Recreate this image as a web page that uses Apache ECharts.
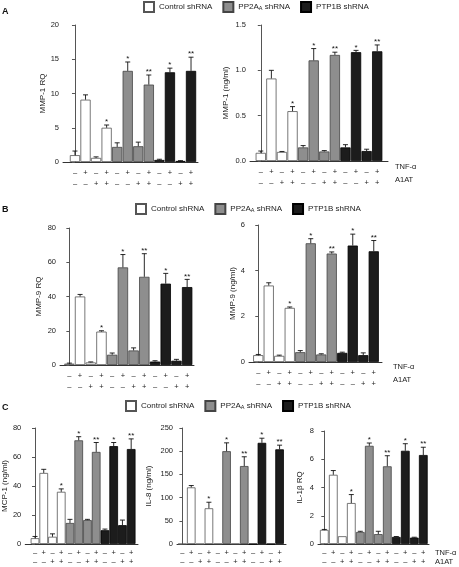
<!DOCTYPE html>
<html><head><meta charset="utf-8">
<script src="https://cdn.jsdelivr.net/npm/echarts@6/dist/echarts.min.js"></script>
<style>html,body{margin:0;padding:0;background:#fff}#c{width:459px;height:567px}</style>
</head><body><div id="c"></div><script>
// ---- data ----
const tnf  = ['–','+','–','+','–','+','–','+','–','+','–','+'];
const a1at = ['–','–','+','+','–','–','+','+','–','–','+','+'];
const groups = ['Control shRNA','PP2AA shRNA','PTP1B shRNA'];
const sig = ['','','','*','','*','','**','','*','','**'];

const mmp1RQ     = [1.0, 9.1, 0.6, 5.0, 2.2, 13.3, 2.3, 11.3, 0.3, 13.1, 0.15, 13.3];
const mmp1RQErr  = [0.6, 0.7, 0.15, 0.4, 0.6, 1.3, 0.6, 1.4, 0.1, 0.6, 0.05, 2.0];
const mmp1Ng     = [0.09, 0.91, 0.10, 0.55, 0.15, 1.11, 0.105, 1.17, 0.15, 1.20, 0.11, 1.21];
const mmp1NgErr  = [0.02, 0.09, 0.005, 0.05, 0.02, 0.13, 0.01, 0.03, 0.03, 0.02, 0.02, 0.07];
const mmp9RQ     = [0.8, 40, 1.5, 19.5, 6, 57, 8.5, 51.5, 2, 47.5, 2.5, 45.5];
const mmp9RQErr  = [0.3, 1.2, 0.3, 0.5, 1, 7.5, 1.5, 13.5, 0.5, 6, 0.8, 4.5];
const mmp9Ng     = [0.30, 3.35, 0.27, 2.37, 0.43, 5.20, 0.33, 4.75, 0.40, 5.10, 0.30, 4.85];
const mmp9NgErr  = [0.03, 0.12, 0.03, 0.04, 0.07, 0.20, 0.03, 0.07, 0.03, 0.50, 0.10, 0.47];
const mcp1Ng     = [4, 49, 5, 36, 14.5, 71.5, 16.5, 63.5, 9.5, 67.5, 13, 65.5];
const mcp1NgErr  = [1.2, 2.5, 2, 2, 2.5, 2.5, 0.5, 6.5, 0.8, 2.5, 3.5, 7];
const il8Ng      = [0, 122, 0, 77, 0, 200, 0, 168, 0, 218, 0, 204];
const il8NgErr   = [0, 4, 0, 13, 0, 18, 0, 20, 0, 10, 0, 9];
const il1bRQ     = [1.0, 4.9, 0.55, 2.9, 0.85, 6.95, 0.7, 5.5, 0.5, 6.6, 0.45, 6.3];
const il1bRQErr  = [0.03, 0.3, 0.0, 0.6, 0.05, 0.2, 0.2, 0.75, 0.03, 0.5, 0.03, 0.55];

// ---- layout / style ----
const FONT = 'Liberation Sans, Arial, sans-serif';
const colors = ['#ffffff', '#8e8e8e', '#1c1c1c'];
const borders = ['#555', '#444', '#000'];

// yx: y-axis x, bs/be: bar block start/end, ae: axis end
const panels = [
  {name:'MMP-1 RQ',     vals:mmp1RQ, errs:mmp1RQErr, max:20,  step:5,   dec:0, yx:63,  bs:69.7,  be:196.3, ae:198, top:25,  height:137, gap:13, lh:11, margin:5},
  {name:'MMP-1 (ng/ml)',vals:mmp1Ng, errs:mmp1NgErr, max:1.5, step:0.5, dec:1, yx:250, bs:255.5, be:382.5, ae:388, top:25,  height:136, gap:20, lh:11, margin:5},
  {name:'MMP-9 RQ',     vals:mmp9RQ, errs:mmp9RQErr, max:80,  step:20,  dec:0, yx:60,  bs:64,    be:192.5, ae:194, top:228, height:137, gap:17, lh:11, margin:5},
  {name:'MMP-9 (ng/ml)',vals:mmp9Ng, errs:mmp9NgErr, max:6,   step:2,   dec:0, yx:249, bs:253,   be:379,   ae:382, top:225, height:137, gap:12, lh:11, margin:5},
  {name:'MCP-1 (ng/ml)',vals:mcp1Ng, errs:mcp1NgErr, max:80,  step:20,  dec:0, yx:23,  bs:28.5,  be:135.5, ae:138, top:428, height:116, gap:15, lh:9,  margin:4},
  {name:'IL-8 (ng/ml)', vals:il8Ng,  errs:il8NgErr,  max:250, step:50,  dec:0, yx:177, bs:178,   be:284,   ae:286, top:428, height:116, gap:24, lh:9,  margin:4},
  {name:'IL-1β RQ',     vals:il1bRQ, errs:il1bRQErr, max:8,   step:2,   dec:0, yx:318, bs:319.8, be:427.8, ae:429, top:431, height:113, gap:14, lh:9,  margin:4}
];
const idx = tnf.map((_, i) => i);

const grid = [], xAxis = [], yAxis = [], series = [];
panels.forEach((p, gi) => {
  const band = (p.be - p.bs) / 12;
  grid.push({left:p.yx, top:p.top, width:p.ae - p.yx, height:p.height});
  xAxis.push({
    type:'value', gridIndex:gi,
    min:-0.5 - (p.bs - p.yx) / band, max:11.5 + (p.ae - p.be) / band,
    axisLine:{show:true, lineStyle:{color:'#333', width:1}},
    axisTick:{show:false, customValues:idx},
    splitLine:{show:false},
    axisLabel:{customValues:idx, showMinLabel:true, showMaxLabel:true, margin:p.margin, fontSize:7.5, fontFamily:FONT, color:'#222', lineHeight:p.lh,
      formatter:v => { const i = Math.round(v); return (i >= 0 && i < 12) ? tnf[i] + '\n' + a1at[i] : ''; }}
  });
  yAxis.push({
    type:'value', gridIndex:gi, min:0, max:p.max, interval:p.step,
    name:p.name, nameLocation:'middle', nameGap:p.gap,
    nameTextStyle:{fontSize:8, fontFamily:FONT, color:'#222'},
    axisLine:{show:true, lineStyle:{color:'#555', width:1}},
    axisTick:{show:true, length:3, lineStyle:{color:'#555'}},
    splitLine:{show:false},
    axisLabel:{fontSize:7.5, fontFamily:FONT, color:'#222', margin:4,
      formatter:v => v.toFixed(p.dec)}
  });
  groups.forEach((g, k) => {
    series.push({
      type:'bar', name:g, xAxisIndex:gi, yAxisIndex:gi,
      barWidth:band * 0.97, barGap:'-100%',
      itemStyle:{color:colors[k], borderColor:borders[k], borderWidth:0.8},
      data:p.vals.map((v, i) => [i, v]).filter(d => Math.floor(d[0] / 4) === k)
    });
  });
  series.push({
    type:'custom', xAxisIndex:gi, yAxisIndex:gi, z:5, silent:true,
    data:p.vals.map((v, i) => [i, v, p.errs[i]]),
    renderItem:(params, api) => {
      const i = api.value(0), v = api.value(1), e = api.value(2);
      const s = sig[params.dataIndex];
      const p0 = api.coord([i, v]);
      const p1 = api.coord([i, v + e]);
      const ch = [];
      if (e > 0) {
        ch.push({type:'line', shape:{x1:p0[0], y1:p0[1], x2:p1[0], y2:p1[1]}, style:{stroke:'#111', lineWidth:0.9}});
        ch.push({type:'line', shape:{x1:p1[0]-2.5, y1:p1[1], x2:p1[0]+2.5, y2:p1[1]}, style:{stroke:'#111', lineWidth:0.9}});
      }
      if (s) ch.push({type:'text', x:p1[0], y:p1[1] + 1,
        style:{text:s, fontSize:8, fontFamily:FONT, fill:'#111', align:'center', verticalAlign:'bottom'}});
      return {type:'group', children:ch};
    }
  });
});

const legendBase = {
  data:groups, orient:'horizontal', icon:'rect', itemWidth:10, itemHeight:10, itemGap:10, padding:0,
  textStyle:{fontSize:8, fontFamily:FONT, color:'#222',
    rich:{sub:{fontSize:5.5, fontFamily:FONT, color:'#222', verticalAlign:'bottom', padding:[3,0,0,0]}}},
  formatter:n => n === 'PP2AA shRNA' ? 'PP2A{sub|A} shRNA' : n
};

const option = {
  animation:false,
  backgroundColor:'#fff',
  grid, xAxis, yAxis, series,
  legend:[
    Object.assign({}, legendBase, {left:143, top:1}),
    Object.assign({}, legendBase, {left:135, top:203}),
    Object.assign({}, legendBase, {left:125, top:400})
  ],
  graphic:[
    {type:'text', left:2, top:7, style:{text:'A', font:'bold 9px ' + FONT, fill:'#111'}},
    {type:'text', left:2, top:205, style:{text:'B', font:'bold 9px ' + FONT, fill:'#111'}},
    {type:'text', left:2, top:403, style:{text:'C', font:'bold 9px ' + FONT, fill:'#111'}},
    {type:'text', left:395, top:163, style:{text:'TNF-α', font:'7.5px ' + FONT, fill:'#222'}},
    {type:'text', left:395, top:176, style:{text:'A1AT', font:'7.5px ' + FONT, fill:'#222'}},
    {type:'text', left:393, top:363, style:{text:'TNF-α', font:'7.5px ' + FONT, fill:'#222'}},
    {type:'text', left:393, top:376, style:{text:'A1AT', font:'7.5px ' + FONT, fill:'#222'}},
    {type:'text', left:435, top:549, style:{text:'TNF-α', font:'7.5px ' + FONT, fill:'#222'}},
    {type:'text', left:435, top:558, style:{text:'A1AT', font:'7.5px ' + FONT, fill:'#222'}}
  ]
};
const chart = echarts.init(document.getElementById('c'), null, {renderer:'canvas'});
chart.setOption(option);
</script></body></html>
